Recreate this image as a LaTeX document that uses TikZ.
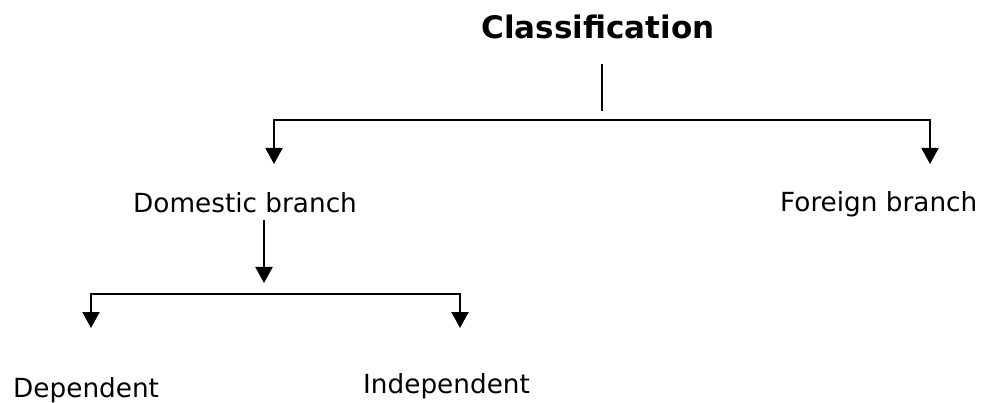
\documentclass[tikz,border=0pt]{standalone}
\usepackage{fontspec}
\setmainfont{DejaVu Sans}
\usetikzlibrary{arrows.meta}
\begin{document}
\begin{tikzpicture}[x=1pt,y=-1pt,
  lbl/.style={inner sep=0pt,anchor=base west,font=\fontsize{26.3}{30}\selectfont},
  ttl/.style={inner sep=0pt,anchor=base,font=\fontsize{31}{36}\selectfont\bfseries},
  conn/.style={line width=2pt,black},
  tip/.style={{Triangle[width=17pt,length=16pt]}-{Triangle[width=17pt,length=16pt]}}]
\useasboundingbox (0,0) rectangle (985,403);
\node[ttl] (cls) at (598,39) {Classification};
\node[lbl] (dom) at (133,213) {Domestic branch};
\node[lbl] (for) at (780,212) {Foreign branch};
\node[lbl] (dep) at (13,397) {Dependent};
\node[lbl] (ind) at (363,393) {Independent};
\coordinate (ctop) at (602,64);
\coordinate (cbot) at (602,111);
\coordinate (hmid) at (602,120);
\coordinate (domtip) at (274,164);
\coordinate (fortip) at (930,164);
\coordinate (dtop) at (264,220);
\coordinate (dbot) at (264,283);
\coordinate (bmid) at (264,294);
\coordinate (deptip) at (91,328);
\coordinate (indtip) at (460,328);
\draw[conn] (ctop) -- (cbot);
\draw[conn,tip] (domtip) |- (hmid) -| (fortip);
\draw[conn,-{Triangle[width=17pt,length=16pt]}] (dtop) -- (dbot);
\draw[conn,tip] (deptip) |- (bmid) -| (indtip);
\end{tikzpicture}
\end{document}
